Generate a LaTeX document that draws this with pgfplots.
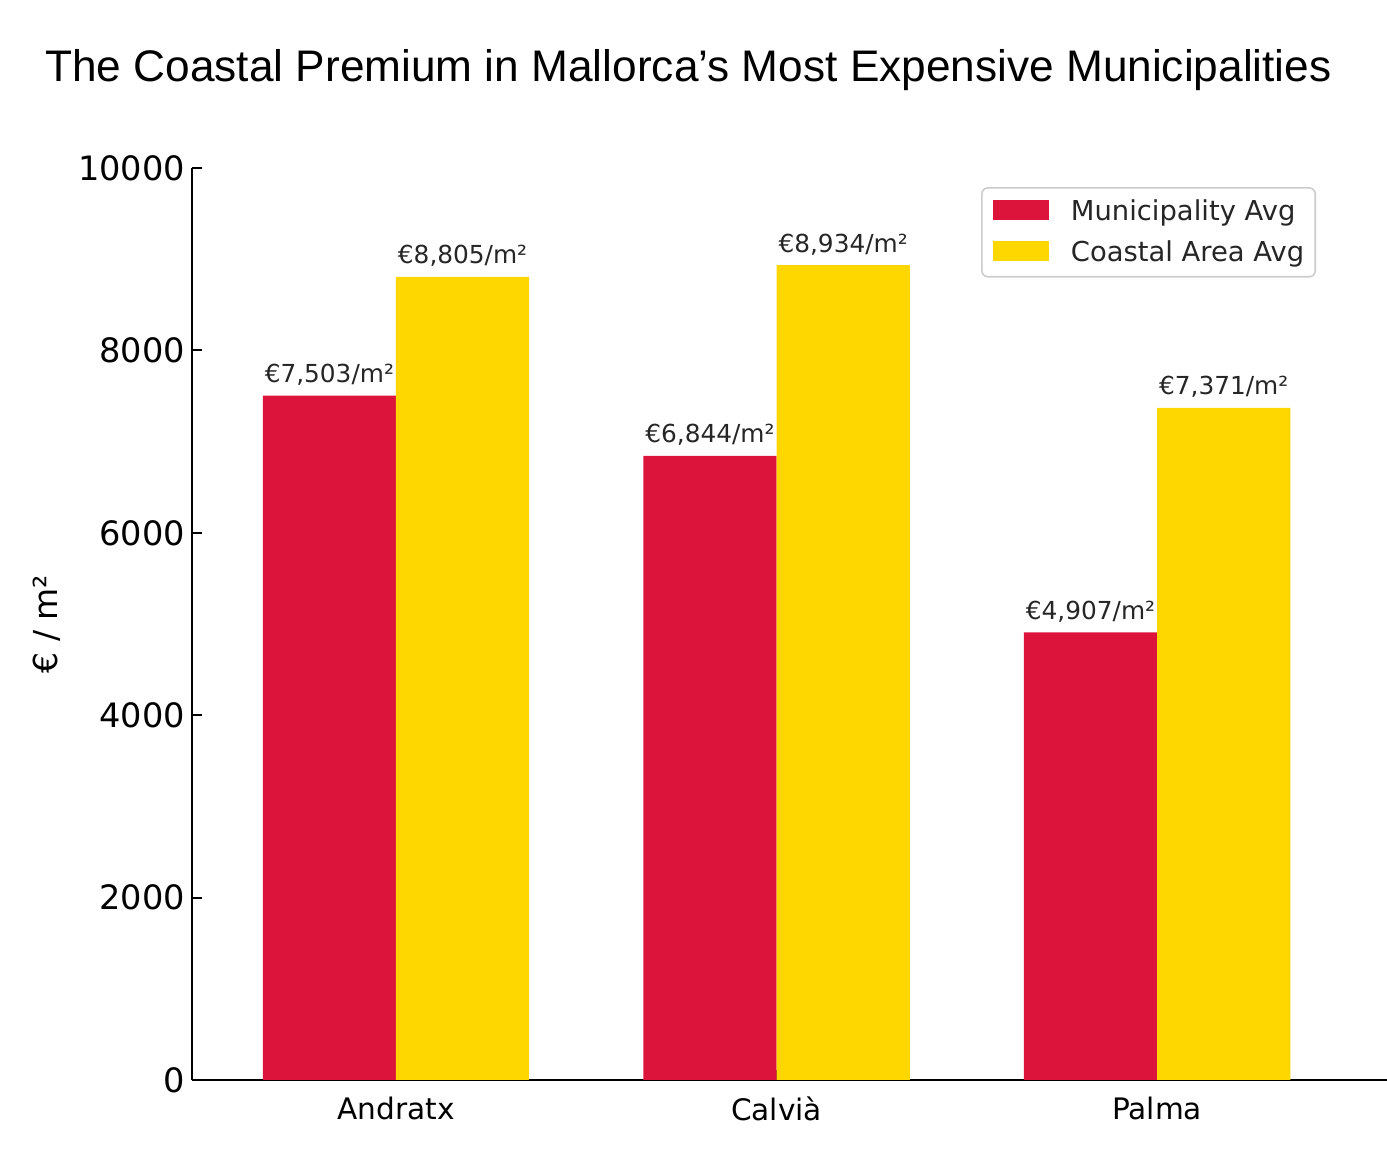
\documentclass[border=0pt]{standalone}
\usepackage{pgfplots}
\pgfplotsset{compat=1.18}
\usepackage{pgfplotstable}
\usepackage{fontspec}
\setmainfont{DejaVu Sans}
\newfontfamily\titlefont{Liberation Sans}

\definecolor{muni}{HTML}{DC143C}
\definecolor{coast}{HTML}{FFD700}
\definecolor{labelgray}{HTML}{262626}

% average price per m2, municipality vs coastal area
\pgfplotstableread{
x y label
0 7503 €7,503/m²
1 6844 €6,844/m²
2 4907 €4,907/m²
}\munitable
\pgfplotstableread{
x y label
0 8805 €8,805/m²
1 8934 €8,934/m²
2 7371 €7,371/m²
}\coasttable

\begin{document}
\begin{tikzpicture}
\begin{axis}[
    scale only axis,
    width=597.5pt, height=456pt,
    ybar, bar width=0.35,
    xmin=-0.536, xmax=2.604,
    ymin=0, ymax=10000,
    axis x line*=bottom, axis y line*=left,
    axis line style={-, line width=1.1pt},
    xtick={0,1,2}, xticklabels={Andratx,Calvià,Palma},
    ytick={0,2000,4000,6000,8000,10000},
    tick align=inside, major tick length=5pt,
    tick style={line width=1pt, black},
    scaled y ticks=false,
    yticklabel style={/pgf/number format/assume math mode=true,
        /pgf/number format/1000 sep={}, font=\fontsize{16.8}{20}\selectfont},
    xticklabel style={font=\fontsize{14.8}{18}\selectfont, yshift=-5pt},
    ylabel={€ / m²},
    ylabel style={font=\fontsize{16.5}{20}\selectfont,
        at={(axis description cs:-0.1213,0.5)}, anchor=center},
    nodes near coords, point meta=explicit symbolic,
    nodes near coords style={font=\fontsize{12.4}{15}\selectfont,
        text=labelgray, anchor=base, yshift=6.5pt, inner sep=0pt},
    legend image code/.code={\fill[#1, draw=none, sharp corners]
        (0pt,-4.25pt) rectangle (28pt,5.75pt);},
    legend cell align=left,
    legend style={at={(0.9406,0.979)}, anchor=north east,
        draw=black!20, line width=0.8pt, rounded corners=3pt,
        font=\fontsize{13.7}{16}\selectfont, text=labelgray,
        inner xsep=5.5pt, inner ysep=6pt, row sep=8.6pt,
        nodes={inner sep=0pt},
        /tikz/every odd column/.append style={column sep=11pt}},
]
\addplot[fill=muni, draw=none, bar shift=-0.175]
    table[x=x, y=y, meta=label] {\munitable};
\addlegendentry{Municipality Avg}

\addplot[fill=coast, draw=none, bar shift=0.175]
    table[x=x, y=y, meta=label] {\coasttable};
\addlegendentry{Coastal Area Avg}
\end{axis}

\node[font=\titlefont\fontsize{22.1}{26}\selectfont, anchor=base]
    at (248.25pt,499pt) {The Coastal Premium in Mallorca’s Most Expensive Municipalities};

\pgfresetboundingbox
\useasboundingbox (-96pt,-38pt) rectangle (597.5pt,540pt);
\end{tikzpicture}
\end{document}
